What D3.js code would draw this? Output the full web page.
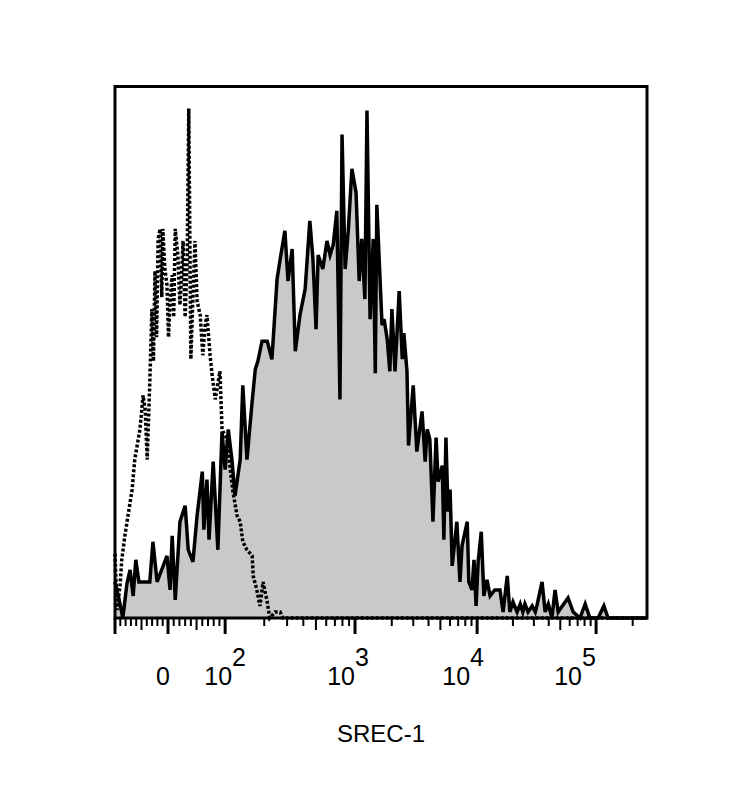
<!DOCTYPE html>
<html>
<head>
<meta charset="utf-8">
<script src="https://cdn.jsdelivr.net/npm/d3@7"></script>
<style>
  body { margin: 0; background: #fff; }
  svg text { font-family: "Liberation Sans", Arial, sans-serif; fill: #000; }
</style>
</head>
<body>
<svg id="chart" width="740" height="797"></svg>
<script>
// stained sample (solid, filled): channel (0-1024) / count
const srecChannel = [0, 8, 15, 23, 29, 35, 40, 46, 67, 73, 81, 100, 106, 110, 116, 125, 135, 141, 150, 158,
    168, 171, 177, 181, 189, 198, 206, 212, 218, 225, 231, 241, 246, 254, 264, 270, 275, 283, 293, 302,
    312, 318, 327, 333, 341, 347, 356, 366, 375, 381, 387, 391, 400, 408, 414, 420, 427, 433, 437, 443,
    449, 456, 464, 470, 475, 481, 485, 491, 497, 501, 504, 514, 518, 524, 529, 533, 539, 547, 553, 556,
    562, 565, 574, 581, 591, 597, 601, 606, 612, 618, 622, 630, 633, 637, 641, 645, 649, 658, 664, 668,
    678, 681, 687, 691, 695, 699, 705, 710, 716, 722, 731, 741, 747, 755, 760, 766, 774, 780, 785, 789,
    795, 803, 809, 812, 822, 828, 834, 841, 847, 853, 861, 872, 882, 895, 905, 914, 930, 941, 949, 1024]
const srecCount = [18, 9, 0, 17, 24, 11, 29, 18, 18, 38, 18, 31, 14, 41, 9, 48, 56, 34, 28, 51,
    73, 44, 69, 39, 78, 34, 93, 74, 94, 79, 61, 79, 116, 79, 108, 124, 128, 138, 138, 129,
    169, 179, 193, 168, 184, 133, 151, 164, 198, 179, 144, 181, 174, 188, 181, 186, 203, 109, 241, 174,
    193, 224, 212, 168, 189, 159, 253, 149, 189, 122, 206, 146, 149, 139, 123, 154, 123, 163, 129, 142,
    123, 86, 116, 83, 103, 78, 94, 89, 48, 90, 68, 76, 39, 90, 53, 64, 26, 48, 18, 36,
    48, 18, 14, 29, 6, 28, 43, 11, 19, 11, 14, 14, 3, 21, 3, 8, 3, 7, 3, 7,
    3, 6, 3, 6, 18, 3, 7, 0, 14, 3, 6, 10, 3, 0, 7, 0, 0, 6, 0, 0]

// control sample (dotted)
const isoChannel = [0, 4, 10, 13, 19, 25, 33, 38, 44, 48, 54, 58, 62, 67, 71, 74, 77, 80, 83, 87,
    90, 92, 96, 100, 103, 106, 110, 113, 116, 121, 125, 128, 131, 135, 139, 142, 146, 150, 154, 158,
    164, 169, 173, 177, 183, 187, 193, 202, 206, 216, 221, 227, 235, 241, 246, 254, 264, 266, 273, 279,
    285, 293, 298, 308, 318, 323, 1024]
const isoCount = [32, 4, 17, 29, 41, 51, 64, 79, 88, 94, 111, 104, 79, 118, 154, 128, 173, 140, 189, 194,
    160, 194, 174, 166, 140, 158, 171, 150, 194, 181, 156, 170, 188, 150, 179, 254, 129, 160, 188, 158,
    151, 131, 145, 151, 131, 121, 109, 123, 94, 89, 76, 63, 51, 48, 38, 34, 31, 21, 14, 6,
    18, 8, 0, 3, 3, 0, 0]

// biex axis calibration: value -> channel
const axisAnchors = [-100, 0, 100, 1e3, 1e4, 1e5, 262144]
const anchorChannels = [0, 102, 212, 462, 697, 926, 1024]
const labelValues = [0, 1e2, 1e3, 1e4, 1e5]
const labelBases = ['0', '10', '10', '10', '10']
const labelExps = ['', '2', '3', '4', '5']
const axisTitle = 'SREC-1'

const yMax = 265

const svg = d3.select('#chart')
const plotLeft = 115, plotRight = 647, plotTop = 86.5, plotBottom = 618

const x = d3.scaleLinear().domain([0, 1024]).range([plotLeft, plotRight])
const y = d3.scaleLinear().domain([0, yMax]).range([plotBottom, plotTop])

// display transform: linear below 100, log above
const disp = v => v <= 100 ? v / 100 : 1 + Math.log10(v / 100)
const toChannel = d3.scaleLinear().domain(axisAnchors.map(disp)).range(anchorChannels)
const xv = v => x(toChannel(disp(v)))

const srec = srecChannel.map((c, i) => ({ c, n: srecCount[i] }))
const iso = isoChannel.map((c, i) => ({ c, n: isoCount[i] }))

const area = d3.area().x(d => x(d.c)).y0(y(0)).y1(d => y(d.n))
const line = d3.line().x(d => x(d.c)).y(d => y(d.n))

svg.append('path')
    .attr('d', area(srec))
    .attr('fill', '#c9c9cb')

svg.append('path')
    .attr('d', line(srec))
    .attr('fill', 'none')
    .attr('stroke', '#000')
    .attr('stroke-width', 3.5)

svg.append('path')
    .attr('d', line(iso))
    .attr('fill', 'none')
    .attr('stroke', '#000')
    .attr('stroke-width', 3.5)
    .attr('stroke-dasharray', '3 2')

// frame
svg.append('rect')
    .attr('x', plotLeft).attr('y', plotTop)
    .attr('width', plotRight - plotLeft).attr('height', plotBottom - plotTop)
    .attr('fill', 'none')
    .attr('stroke', '#000')
    .attr('stroke-width', 3)

// ticks
const minorTicks = [
    ...d3.range(-90, 100, 10).filter(v => v !== 0),
    ...[100, 1000, 10000].flatMap(d => d3.range(2, 10).map(m => m * d)),
    200000
]
const majorTicks = [-100, 0, 1e2, 1e3, 1e4, 1e5]
const isMid = v => Math.abs(v) === 50 || String(Math.abs(v))[0] === '5'

const g = svg.append('g')
g.selectAll('.minor')
    .data(minorTicks)
    .enter()
    .append('line')
    .attr('x1', xv).attr('x2', xv)
    .attr('y1', plotBottom)
    .attr('y2', v => plotBottom + (isMid(v) ? 12 : 8))
    .attr('stroke', '#000')
    .attr('stroke-width', 2)
g.selectAll('.major')
    .data(majorTicks)
    .enter()
    .append('line')
    .attr('x1', xv).attr('x2', xv)
    .attr('y1', plotBottom)
    .attr('y2', plotBottom + 16)
    .attr('stroke', '#000')
    .attr('stroke-width', 3)

// tick labels (drift left a bit per decade, as in the original export)
const labels = svg.selectAll('.lbl')
    .data(labelValues)
    .enter()
    .append('text')
    .attr('x', (v, i) => xv(v) + (i === 0 ? -5 : -7 * (i - 1)))
    .attr('y', 685)
    .attr('text-anchor', 'middle')
    .attr('font-size', 25)
labels.append('tspan').text((v, i) => labelBases[i])
labels.append('tspan')
    .attr('dy', -19)
    .text((v, i) => labelExps[i])

svg.append('text')
    .attr('x', (plotLeft + plotRight) / 2)
    .attr('y', 742)
    .attr('text-anchor', 'middle')
    .attr('font-size', 24)
    .text(axisTitle)
</script>
</body>
</html>
